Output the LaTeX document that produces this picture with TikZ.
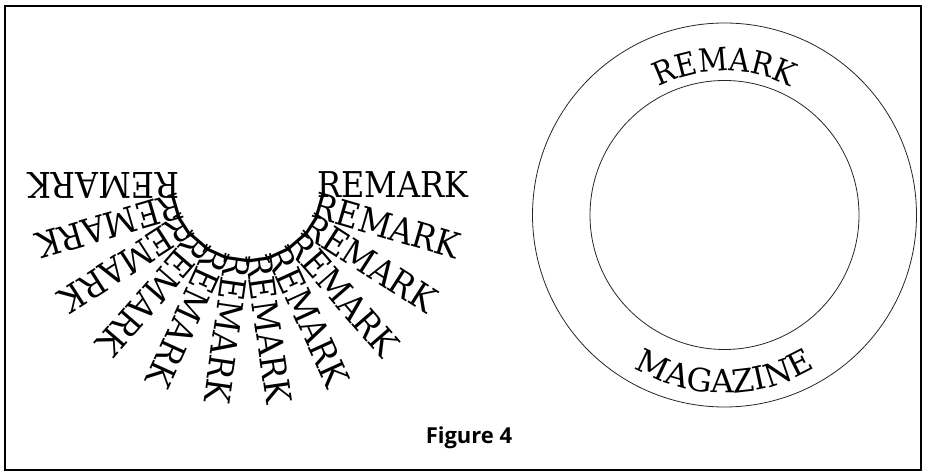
\documentclass[tikz,border=0pt]{standalone}
\usepackage{fontspec}
\setmainfont{DejaVu Serif}
\newfontfamily\fanfont[FakeStretch=0.9]{DejaVu Serif}
\newfontfamily\ringfont{DejaVu Serif}
\newfontfamily\capfont{Open Sans}
\usetikzlibrary{calc,decorations.text}
\begin{document}
\begin{tikzpicture}[x=1pt,y=1pt,
  frame/.style={draw=black, line width=1.8pt},
  ring/.style={draw=black!85, line width=0.8pt},
  fanword/.style={inner sep=0pt, outer sep=0pt, anchor=west,
    font=\fanfont\fontsize{35.5}{36}\selectfont},
  ringtext/.style 2 args={decorate, decoration={text along path, text align=center,
    text={|#1|#2}}},
  caption/.style={inner sep=0pt, anchor=base, font=\capfont\bfseries\fontsize{22}{24}\selectfont}]
\useasboundingbox (0,0) rectangle (925,473);
\draw[frame] (5,467) rectangle (921,3);
% fan of words
\coordinate (fc) at (248,288);
\foreach \i in {0,...,11}{
  \pgfmathsetmacro{\a}{-\i*180/11}
  \node[fanword, rotate=\a] (w\i) at ($(fc)+(\a:69)$) {REMARK};
}
% rings
\coordinate (rc) at (724.5,258);
\node[ring, circle, minimum size=384pt, inner sep=0pt] (outer) at (rc) {};
\node[ring, circle, minimum size=269pt, inner sep=0pt] (inner) at (rc) {};
\path[ringtext={\fanfont\fontsize{32}{32}\selectfont}{REMARK}]
  ([shift={(rc)}]150:144) arc[start angle=150, end angle=30, radius=144];
\path[ringtext={\ringfont\fontsize{32}{32}\selectfont}{MAGAZINE}]
  ([shift={(rc)}]205:178) arc[start angle=205, end angle=335, radius=178];
\node[caption] (cap) at (469,29) {Figure 4};
\end{tikzpicture}
\end{document}
